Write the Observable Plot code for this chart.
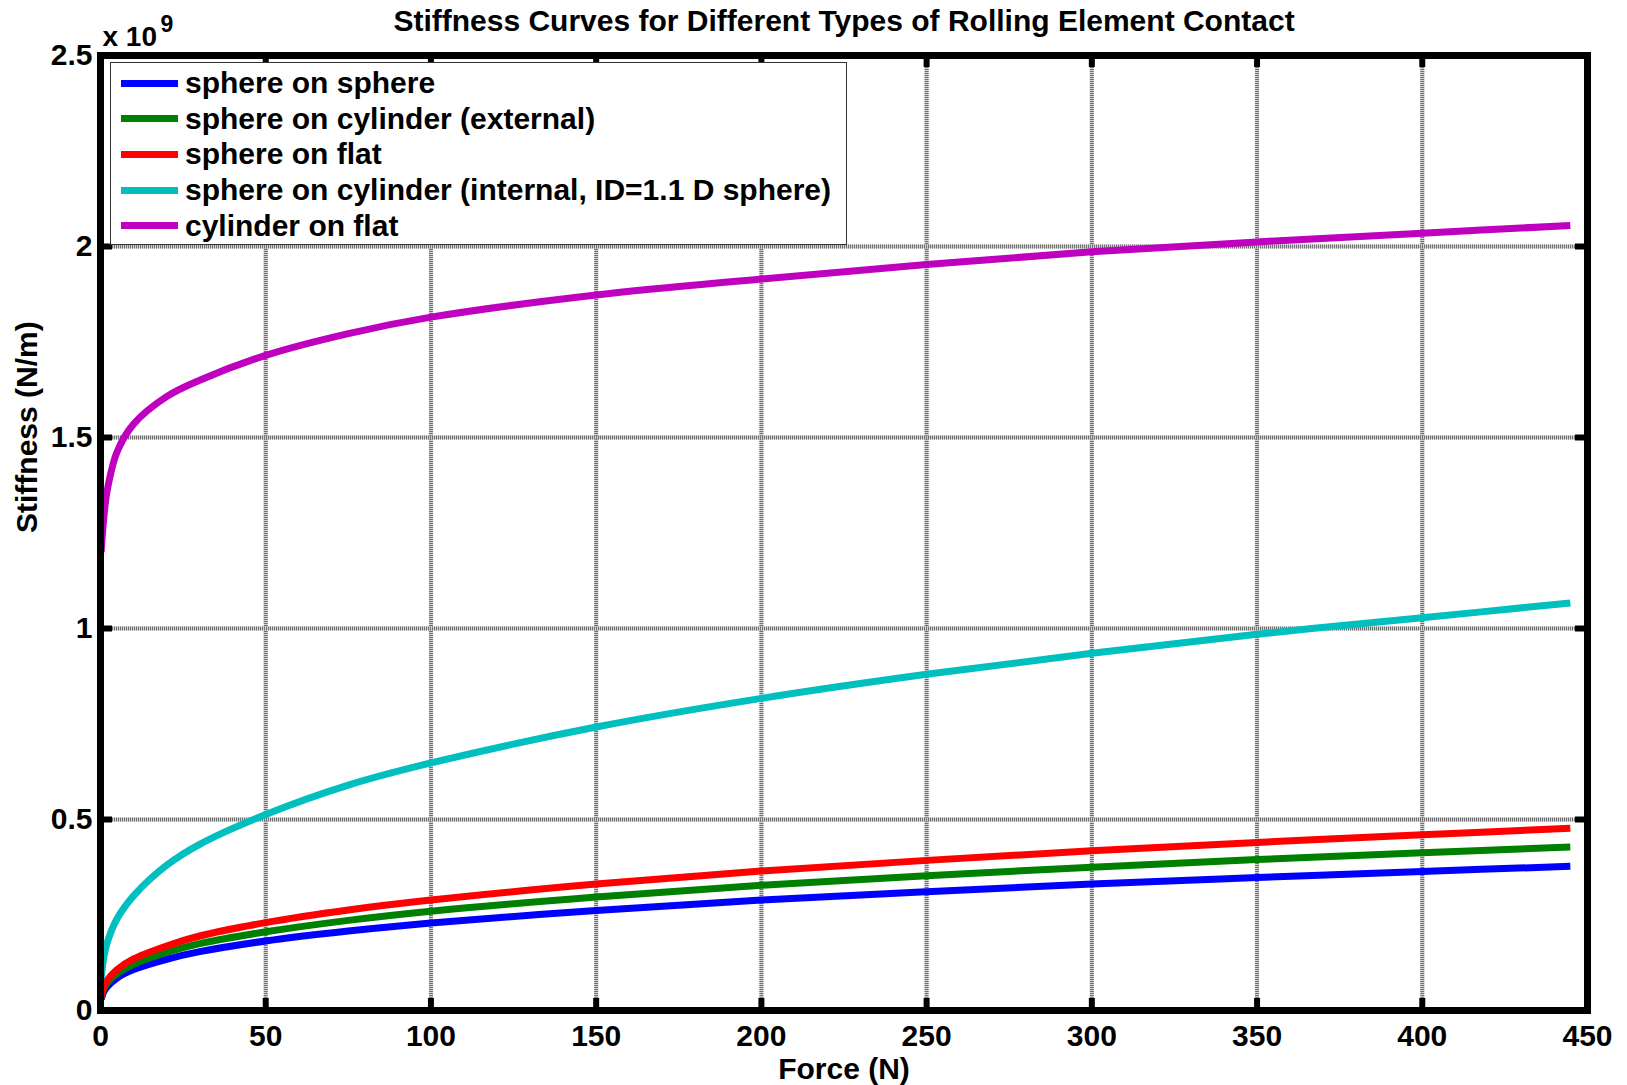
<!DOCTYPE html>
<html><head><meta charset="utf-8">
<script src="https://cdn.jsdelivr.net/npm/d3@7"></script>
<script src="https://cdn.jsdelivr.net/npm/@observablehq/plot@0.6"></script>
<style>
body{margin:0;background:#fff;}
#wrap{position:relative;width:1627px;height:1085px;font-family:"Liberation Sans",Arial,sans-serif;font-weight:bold;}
#legend{position:absolute;left:110px;top:62px;width:735px;height:181px;background:#fff;border:1.5px solid #333;}
.row{position:absolute;left:0;height:36px;display:flex;align-items:center;}
.sw{width:57px;height:7px;margin-left:10px;margin-right:7px;}
.lab{font-size:30px;color:#000;white-space:nowrap;line-height:36px;}
</style></head><body><div id="wrap"></div>
<script>
// Force (N)
const force = [0.2, 1, 2, 5, 10, 20, 30, 50, 75, 100, 150, 200, 250, 300, 350, 400, 444.8];
// Stiffness (x 10^9 N/m)
const sphereOnSphere   = [0.029, 0.0495, 0.062, 0.085, 0.107, 0.134, 0.154, 0.182, 0.208, 0.229, 0.262, 0.289, 0.311, 0.331, 0.348, 0.364, 0.3775];
const sphereOnCylExt   = [0.033, 0.056, 0.071, 0.096, 0.121, 0.152, 0.175, 0.206, 0.236, 0.260, 0.297, 0.328, 0.353, 0.375, 0.395, 0.413, 0.428];
const sphereOnFlat     = [0.037, 0.0625, 0.079, 0.107, 0.135, 0.169, 0.195, 0.230, 0.263, 0.289, 0.331, 0.365, 0.393, 0.418, 0.440, 0.460, 0.477];
const sphereOnCylInt   = [0.083, 0.14, 0.177, 0.24, 0.30, 0.38, 0.435, 0.513, 0.59, 0.648, 0.742, 0.817, 0.88, 0.935, 0.985, 1.028, 1.067];
const cylinderOnFlat   = [1.20, 1.29, 1.36, 1.462, 1.535, 1.607, 1.65, 1.715, 1.772, 1.815, 1.873, 1.915, 1.953, 1.986, 2.012, 2.035, 2.055];

const seriesNames = ["sphere on sphere", "sphere on cylinder (external)", "sphere on flat", "sphere on cylinder (internal, ID=1.1 D sphere)", "cylinder on flat"];
const seriesValues = [sphereOnSphere, sphereOnCylExt, sphereOnFlat, sphereOnCylInt, cylinderOnFlat];
const seriesColors = ["#0000ff", "#008000", "#ff0000", "#00bfbf", "#bf00bf"];

const xTicks = [0, 50, 100, 150, 200, 250, 300, 350, 400, 450];
const xTickLabels = ["0", "50", "100", "150", "200", "250", "300", "350", "400", "450"];
const yTicks = [0, 0.5, 1, 1.5, 2, 2.5];
const yTickLabels = ["0", "0.5", "1", "1.5", "2", "2.5"];

const titleText = "Stiffness Curves for Different Types of Rolling Element Contact";
const xLabel = "Force (N)";
const yLabel = "Stiffness (N/m)";
const expBase = "x 10";
const expPower = "9";

const rows = [];
seriesNames.forEach((name, i) => force.forEach((f, j) => rows.push({series: name, force: f, k: seriesValues[i][j]})));

const font = "Liberation Sans, Arial, sans-serif";
const plot = Plot.plot({
  width: 1627, height: 1085,
  marginLeft: 100, marginRight: 40, marginTop: 55, marginBottom: 75,
  x: {domain: [0, 450], label: null},
  y: {domain: [0, 2.5], label: null},
  color: {domain: seriesNames, range: seriesColors},
  style: {fontFamily: font, fontWeight: "bold", background: "white", color: "black"},
  marks: [
    Plot.gridX({ticks: xTicks, stroke: "#d2d2d2", strokeOpacity: 1, strokeWidth: 4}),
    Plot.gridX({ticks: xTicks, stroke: "#707070", strokeOpacity: 1, strokeWidth: 4, strokeDasharray: "1 1"}),
    Plot.gridY({ticks: yTicks, stroke: "#d2d2d2", strokeOpacity: 1, strokeWidth: 4}),
    Plot.gridY({ticks: yTicks, stroke: "#707070", strokeOpacity: 1, strokeWidth: 4, strokeDasharray: "1 1"}),
    Plot.line(rows, {x: "force", y: "k", z: "series", stroke: "series", strokeWidth: 7, curve: "catmull-rom", strokeLinecap: "butt"}),
    // inward ticks on all four sides
    Plot.ruleX(xTicks, {x: d => d, stroke: "black", strokeWidth: 6, insetTop: 943}),
    Plot.ruleX(xTicks, {x: d => d, stroke: "black", strokeWidth: 6, insetBottom: 943}),
    Plot.ruleY(yTicks, {y: d => d, stroke: "black", strokeWidth: 6, insetRight: 1475}),
    Plot.ruleY(yTicks, {y: d => d, stroke: "black", strokeWidth: 6, insetLeft: 1475}),
    Plot.frame({stroke: "black", strokeWidth: 7}),
    Plot.axisX({ticks: xTicks, tickSize: 0, tickPadding: 14, fontSize: 30, label: null, tickFormat: (d, i) => xTickLabels[i]}),
    Plot.axisY({ticks: yTicks, tickSize: 0, tickPadding: 8, fontSize: 30, label: null, tickFormat: (d, i) => yTickLabels[i]}),
    Plot.text([titleText], {text: d => d, frameAnchor: "top", dy: -34, lineAnchor: "middle", fontSize: 30, fontWeight: "bold"}),
    Plot.text([xLabel], {text: d => d, frameAnchor: "bottom", dy: 59, lineAnchor: "middle", fontSize: 30, fontWeight: "bold"}),
    Plot.text([yLabel], {text: d => d, frameAnchor: "left", dx: -73, rotate: -90, lineAnchor: "middle", fontSize: 30, fontWeight: "bold"}),
    Plot.text([expBase], {text: d => d, frameAnchor: "top-left", dx: 2, dy: -10, textAnchor: "start", lineAnchor: "bottom", fontSize: 28, fontWeight: "bold"}),
    Plot.text([expPower], {text: d => d, frameAnchor: "top-left", dx: 60, dy: -24, textAnchor: "start", lineAnchor: "bottom", fontSize: 23, fontWeight: "bold"})
  ]
});

const wrap = document.getElementById("wrap");
wrap.appendChild(plot);
const legend = document.createElement("div");
legend.id = "legend";
seriesNames.forEach((name, i) => {
  const r = document.createElement("div");
  r.className = "row";
  r.style.top = (2 + i * 35.7) + "px";
  const sw = document.createElement("div");
  sw.className = "sw";
  sw.style.background = seriesColors[i];
  const lab = document.createElement("span");
  lab.className = "lab";
  lab.textContent = name;
  r.appendChild(sw); r.appendChild(lab);
  legend.appendChild(r);
});
wrap.appendChild(legend);
</script></body></html>
